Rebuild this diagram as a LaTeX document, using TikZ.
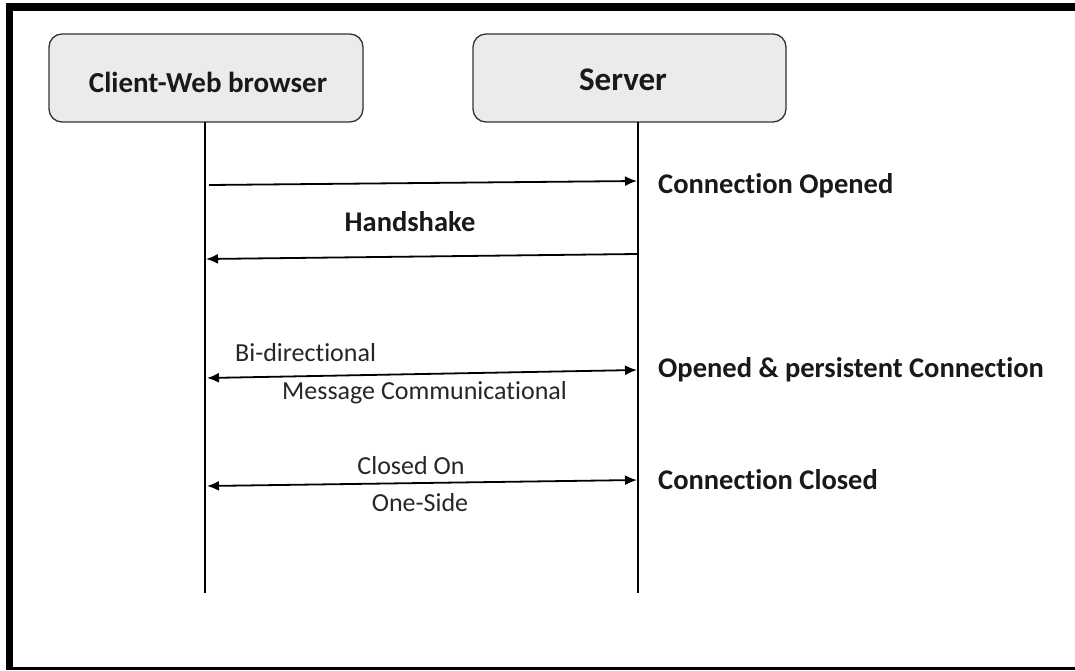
\documentclass[tikz,border=0pt]{standalone}
\usepackage{fontspec}
\setmainfont[Ligatures={NoCommon}]{Carlito}
\usetikzlibrary{arrows.meta}
\begin{document}
\begin{tikzpicture}[x=1pt,y=-1pt,
  actor/.style={draw=black!80,line width=1.3pt,fill=black!8,rounded corners=13pt,inner sep=0pt},
  lifeline/.style={draw=black,line width=2.2pt},
  msg/.style={draw=black,line width=1.8pt,-{Latex[length=12pt,width=10pt]}},
  bimsg/.style={draw=black,line width=1.8pt,{Latex[length=12pt,width=10pt]}-{Latex[length=12pt,width=10pt]}},
  boldlab/.style={font=\fontsize{28.5}{32}\selectfont\bfseries,text=black!90,inner sep=0pt},
  lab/.style={font=\fontsize{26}{30}\selectfont,text=black!85,inner sep=0pt},
  framebar/.style={fill=black,draw=none}]
\useasboundingbox (0,0) rectangle (1075,670);
\fill[white] (0,0) rectangle (1075,670);
% frame (top, left, bottom)
\path[framebar] (6,3) rectangle (1075,11);
\path[framebar] (6,3) rectangle (13,670);
\path[framebar] (6,667) rectangle (1075,670);
% actors
\node[actor,minimum width=314pt,minimum height=88pt] (client) at (206,78) {};
\node[actor,minimum width=313pt,minimum height=88pt] (server) at (629.5,78) {};
\node[font=\fontsize{29}{32}\selectfont\bfseries,text=black!90,inner sep=0pt] (clientLabel) at (208,82) {Client-Web browser};
\node[font=\fontsize{33}{36}\selectfont\bfseries,text=black!90,inner sep=0pt] (serverLabel) at (623,80) {Server};
% lifeline ends
\coordinate (cTop) at (205,122);
\coordinate (cBot) at (205,593);
\coordinate (sTop) at (638,122);
\coordinate (sBot) at (638,593);
\draw[lifeline] (cTop) -- (cBot);
\draw[lifeline] (sTop) -- (sBot);
% message points
\coordinate (c1) at (209,185);
\coordinate (s1) at (637,181);
\coordinate (s2) at (637,254);
\coordinate (c2) at (206,259);
\coordinate (c3) at (207,378);
\coordinate (s3) at (637,370);
\coordinate (c4) at (207,486);
\coordinate (s4) at (637,480);
\draw[msg] (c1) -- (s1);
\draw[msg] (s2) -- (c2);
\draw[bimsg] (c3) -- (s3);
\draw[bimsg] (c4) -- (s4);
% labels
\node[boldlab,anchor=west] (lOpened) at (658,186) {Connection Opened};
\node[boldlab] (lHand) at (410,222) {Handshake};
\node[boldlab,anchor=west] (lPersist) at (658,370) {Opened \& persistent Connection};
\node[boldlab,anchor=west] (lClosed) at (658,480) {Connection Closed};
\node[lab,anchor=west] (lBi) at (235,353) {Bi-directional};
\node[lab,anchor=west] (lMsg) at (282,393) {Message Communicational};
\node[lab] (lCOn) at (411,466) {Closed On};
\node[lab] (lOne) at (420,503) {One-Side};
\end{tikzpicture}
\end{document}
